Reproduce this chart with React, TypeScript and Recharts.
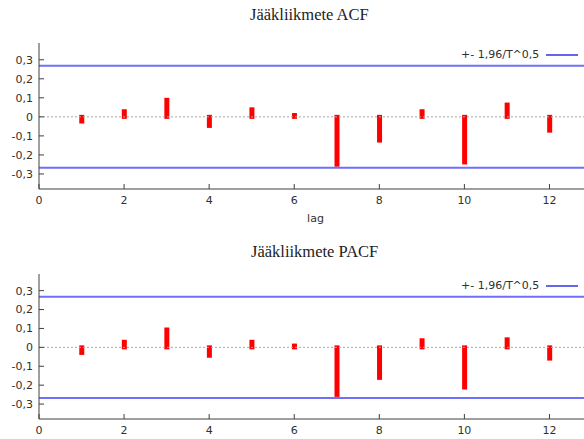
import { ComposedChart, Bar, XAxis, YAxis, ReferenceLine, Legend } from "recharts";

const lags = [1, 2, 3, 4, 5, 6, 7, 8, 9, 10, 11, 12];
const acfValues = [-0.035, 0.04, 0.1, -0.058, 0.05, 0.02, -0.262, -0.135, 0.04, -0.25, 0.075, -0.083];
const pacfValues = [-0.04, 0.04, 0.105, -0.055, 0.04, 0.02, -0.262, -0.172, 0.048, -0.223, 0.053, -0.07];
const xTicks = [0, 2, 4, 6, 8, 10, 12];
const yTicks = [-0.3, -0.2, -0.1, 0, 0.1, 0.2, 0.3];
const bound = 0.268; // +- 1,96/T^0,5
const legendLabel = "+- 1,96/T^0,5";

const axisColor = "#404040";
const tickFont = { fill: "#303030", fontSize: 11, fontFamily: "DejaVu Sans" };
const yDomain = [-0.379, 0.388];

const fmt = (v: number) => String(v).replace(".", ",");

// impulse bar that pokes a little past the zero line, like gnuplot's thick impulses
const Impulse = (props: any) => {
  const { x, y, width, height, value } = props;
  const v = Array.isArray(value) ? value[1] : value;
  let top = Math.min(y, y + height);
  let bottom = Math.max(y, y + height);
  if (v >= 0) bottom += 2;
  else top -= 2;
  return <rect x={x} y={top} width={width} height={bottom - top} fill="#ff0000" />;
};

const LegendBox = () => (
  <div style={{ display: "flex", alignItems: "center", fontFamily: "DejaVu Sans", fontSize: 11, color: "#303030" }}>
    <span>{legendLabel}</span>
    <svg width={40} height={4} style={{ marginLeft: 7 }}>
      <line x1={0} y1={2} x2={32} y2={2} stroke="#3333e6" strokeWidth={1.5} />
    </svg>
  </div>
);

type PanelProps = { values: number[]; xLabel?: string; top: number; height: number; marginTop: number; xHeight: number };

const Panel = ({ values, xLabel, top, height, marginTop, xHeight }: PanelProps) => {
  const data = lags.map((lag, i) => ({ lag, value: values[i] }));
  return (
    <div style={{ position: "absolute", top, left: 0 }}>
      <ComposedChart width={607} height={height} data={data} margin={{ top: marginTop, right: 15, bottom: 0, left: 0 }}>
        <XAxis
          dataKey="lag"
          type="number"
          domain={[0, 13]}
          ticks={xTicks}
          allowDataOverflow
          height={xHeight}
          stroke={axisColor}
          tickSize={-5}
          tickMargin={12}
          tick={tickFont}
          label={xLabel ? { value: xLabel, position: "insideBottom", offset: 8, fill: "#303030", fontSize: 11, fontFamily: "DejaVu Sans" } : undefined}
        />
        <XAxis
          xAxisId="top"
          dataKey="lag"
          type="number"
          orientation="top"
          domain={[0, 13]}
          ticks={xTicks}
          height={0}
          stroke={axisColor}
          tickSize={-5}
          tickFormatter={() => ""}
        />
        <YAxis
          type="number"
          domain={yDomain}
          ticks={yTicks}
          allowDataOverflow
          width={39}
          stroke={axisColor}
          tickSize={-5}
          tickMargin={11}
          tick={tickFont}
          tickFormatter={fmt}
        />
        <YAxis
          yAxisId="r"
          orientation="right"
          type="number"
          domain={yDomain}
          ticks={yTicks}
          width={0}
          stroke={axisColor}
          tickSize={-5}
          tickFormatter={() => ""}
        />
        <ReferenceLine y={0} stroke="#a8a8a8" strokeDasharray="2 2" />
        <ReferenceLine y={bound} stroke="#6f6ff8" strokeWidth={2} />
        <ReferenceLine y={-bound} stroke="#6f6ff8" strokeWidth={2} />
        <Bar dataKey="value" barSize={5} fill="#ff0000" shape={<Impulse />} isAnimationActive={false} />
        <Legend
          layout="horizontal"
          verticalAlign="middle"
          align="center"
          content={() => <LegendBox />}
          wrapperStyle={{ position: "absolute", top: marginTop + 5, left: 461, width: "auto" }}
        />
      </ComposedChart>
    </div>
  );
};

const titleStyle: React.CSSProperties = {
  position: "absolute",
  fontFamily: "Liberation Serif",
  fontSize: 16.5,
  lineHeight: "18px",
  color: "#222",
  whiteSpace: "nowrap",
};

export default function App() {
  return (
    <div style={{ position: "absolute", top: 0, left: 0, width: 584, height: 439, overflow: "hidden", background: "#fff" }}>
      <div style={{ ...titleStyle, top: 6, left: 250 }}>Jääkliikmete ACF</div>
      <Panel values={acfValues} xLabel="lag" top={0} height={230} marginTop={43} xHeight={41} />
      <div style={{ ...titleStyle, top: 243, left: 251 }}>Jääkliikmete PACF</div>
      <Panel values={pacfValues} top={230} height={209} marginTop={44} xHeight={20} />
    </div>
  );
}
